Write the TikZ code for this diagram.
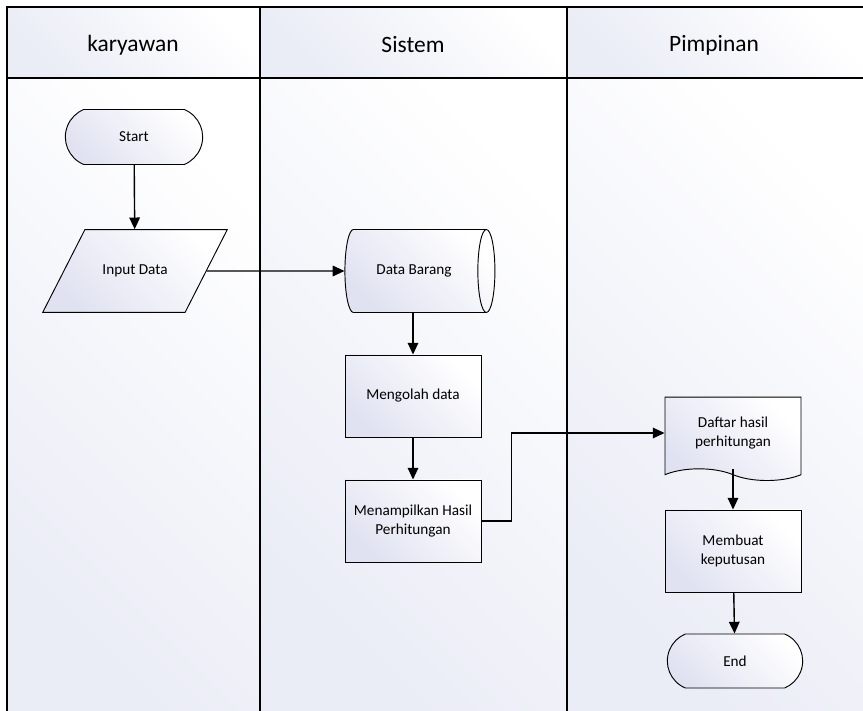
\documentclass[tikz,border=0pt]{standalone}
\usepackage{fontspec}
\setmainfont{Carlito}
\usetikzlibrary{arrows.meta,shapes.geometric,shapes.misc,shapes.symbols}
\definecolor{lanebg}{RGB}{234,236,246}
\definecolor{shapebg}{RGB}{224,226,241}
\newcommand{\lanecell}[4]{%
  \shade[top color=lanebg,bottom color=white,shading angle=135] (#1,#2) rectangle (#3,#4);}

\begin{document}
\begin{tikzpicture}[x=0.03cm,y=-0.03cm,
    box/.style={draw,line width=0.8pt,top color=shapebg,bottom color=white,shading angle=135,
                font=\fontsize{13}{15.5}\selectfont,align=center,inner sep=2pt},
    flow/.style={-{Triangle[length=10pt,width=9pt]},line width=1.2pt}]
  \useasboundingbox (0,0) rectangle (863,711);
  % swimlanes
  \lanecell{7}{7}{260}{78}
  \lanecell{260}{7}{567}{78}
  \lanecell{567}{7}{863}{78}
  \lanecell{7}{78}{260}{711}
  \lanecell{260}{78}{567}{711}
  \lanecell{567}{78}{863}{711}
  \draw[line width=1pt] (7,711) -- (7,7) -- (863,7);
  \draw[line width=1pt] (7,78) -- (863,78);
  \draw[line width=1pt] (260,7) -- (260,711);
  \draw[line width=1pt] (567,7) -- (567,711);
  \node[font=\fontsize{20}{24}\selectfont] (lkaryawan) at (133,45) {karyawan};
  \node[font=\fontsize{20}{24}\selectfont] (lsistem) at (413,45) {Sistem};
  \node[font=\fontsize{20}{24}\selectfont] (lpimpinan) at (714,45) {Pimpinan};

  % karyawan
  \node[box,rounded rectangle,rounded rectangle arc length=135,
        minimum width=4.26cm,minimum height=1.65cm] (start) at (134,137) {Start};
  \node[box,trapezium,trapezium left angle=63,trapezium right angle=117,
        text height=9pt,text depth=3pt,inner xsep=15pt,inner ysep=29.25pt] (input) at (135,271) {Input Data};

  % sistem
  \node[box,cylinder,shape border rotate=0,aspect=1,
        minimum width=2.49cm,minimum height=4.5cm] (barang) at (414,271) {Data Barang};
  \node[box,minimum width=4.08cm,minimum height=2.46cm] (olah) at (413,396) {Mengolah data};
  \node[box,minimum width=4.08cm,minimum height=2.46cm] (tampil) at (413,521)
        {Menampilkan Hasil\\Perhitungan};

  % pimpinan
  \node[box,tape,tape bend top=none,tape bend bottom=out and in,tape bend height=10pt,
        minimum width=4.08cm,minimum height=2.5cm] (daftar) at (733,433)
        {Daftar hasil\\perhitungan};
  \node[box,minimum width=4.08cm,minimum height=2.46cm] (putusan) at (733,551)
        {Membuat\\keputusan};
  \node[box,rounded rectangle,rounded rectangle arc length=135,
        minimum width=4.2cm,minimum height=1.62cm] (end) at (735,661) {End};

  \draw[flow] (start) -- (input);
  \draw[flow] (input.east) -- (barang.west);
  \draw[flow] (barang.south -| olah.north) -- (olah.north);
  \draw[flow] (olah) -- (tampil);
  \draw[flow] (tampil.east) -- ++(30,0) |- (daftar.west);
  \draw[flow] (daftar.south) -- (putusan.north);
  \draw[flow] (putusan) -- (end);
\end{tikzpicture}
\end{document}
